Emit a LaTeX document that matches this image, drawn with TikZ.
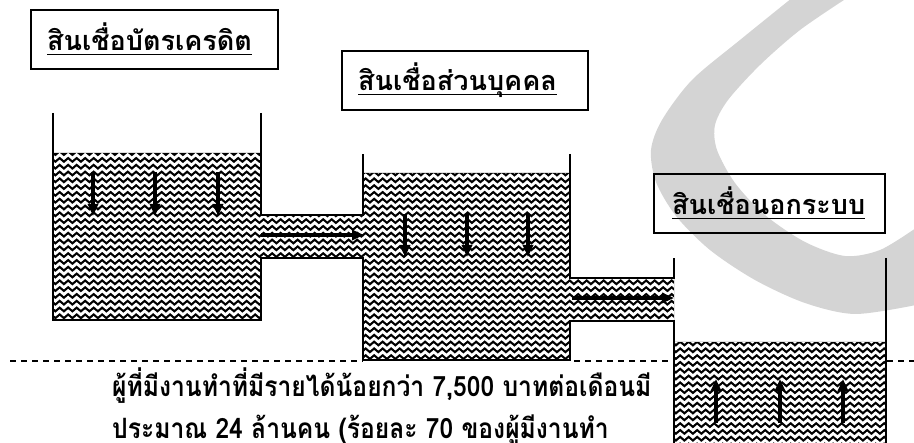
\documentclass[tikz,border=0pt]{standalone}
\usepackage{fontspec}
\newfontfamily\thaititle[Script=Thai]{Loma}
\newfontfamily\thaibody[Script=Thai, FakeStretch=0.88]{Loma}
\usetikzlibrary{decorations.pathmorphing,arrows.meta}
\definecolor{wm}{RGB}{212,212,212}
\begin{document}
\begin{tikzpicture}[x=1pt,y=-1pt,
  titlebox/.style={draw, line width=1.6pt, minimum height=59pt, inner sep=0pt},
  titletext/.style={inner sep=0pt, anchor=base west, font=\thaititle\bfseries\fontsize{27}{31}\selectfont},
  bodytext/.style={inner sep=0pt, anchor=base west, font=\thaibody\bfseries\fontsize{28}{32}\selectfont},
  uline/.style={line width=1.6pt},
  wall/.style={line width=1.8pt, line join=miter},
  wave/.style={white, line width=2.8pt, decorate, decoration={snake, segment length=8.5pt, amplitude=1.8pt}},
  flow/.style={line width=3.4pt, -{Triangle[width=10pt,length=12pt]}},
  dashline/.style={line width=1.4pt, dash pattern=on 6pt off 5pt}]
\useasboundingbox (0,0) rectangle (914,443);
\fill[white] (0,0) rectangle (914,443);
% watermark
\fill[wm] plot[smooth] coordinates {(792,-2) (740,40) (692,80) (662,120) (651,150) (656,182) (676,216) (710,250) (755,280) (805,303) (855,314) (916,305)}
  -- plot[smooth] coordinates {(916,228) (880,250) (845,256) (805,242) (765,215) (735,183) (717,150) (715,125) (728,100) (760,65) (800,30) (847,-2)} -- cycle;
% liquid
\def\liquid{(53,153) -- (261,153) -- (261,215) -- (363,215) -- (363,173) -- (570,173) -- (570,278) -- (674,278) -- (674,321) -- (570,321) -- (570,360) -- (363,360) -- (363,258) -- (261,258) -- (261,320) -- (53,320) -- cycle (674,342) -- (886,342) -- (886,460) -- (674,460) -- cycle}
\fill[black] \liquid;
\begin{scope}
  \clip \liquid;
  \foreach \yy in {156.5,163.3,...,455} \draw[wave] (40,\yy) -- (900,\yy);
\end{scope}
% walls
\draw[wall] (53,113) -- (53,320) -- (261,320) -- (261,258) -- (363,258) -- (363,360) -- (570,360) -- (570,321) -- (674,321) -- (674,445);
\draw[wall] (261,113) -- (261,215) -- (363,215) -- (363,154);
\draw[wall] (570,154) -- (570,278) -- (674,278) -- (674,258);
\draw[wall] (886,258) -- (886,445);
% arrows
\foreach \xx in {93,155,218} \draw[flow] (\xx,172) -- (\xx,216);
\foreach \xx in {405,467,528} \draw[flow] (\xx,214) -- (\xx,257);
\draw[flow] (261,235) -- (364,235);
\draw[flow] (572,298) -- (674,298);
\foreach \xx in {716,780,843} \draw[flow] (\xx,423) -- (\xx,379);
% dashed baseline
\draw[dashline] (10,361) -- (363,361);
\draw[dashline] (574,361) -- (674,361);
\draw[dashline] (887,361) -- (914,361);
% title boxes
\node[titlebox, minimum width=247pt] (b1) at (154.5,39.5) {};
\node[titlebox, minimum width=246pt] (b2) at (465,80.5) {};
\node[titlebox, minimum width=231pt] (b3) at (769.5,203.5) {};
\node[titletext] (t1) at (47,51) {สินเชื่อบัตรเครดิต};
\node[titletext] (t2) at (358,91) {สินเชื่อส่วนบุคคล};
\node[titletext] (t3) at (672,215) {สินเชื่อนอกระบบ};
\foreach \t in {t1,t2,t3} \draw[uline] ([yshift=-3.5pt]\t.base west) -- ([yshift=-3.5pt]\t.base east);
% body text
\node[bodytext] (l1) at (112,397) {ผู้ที่มีงานทำที่มีรายได้น้อยกว่า 7,500 บาทต่อเดือนมี};
\node[bodytext] (l2) at (112,439) {ประมาณ 24 ล้านคน (ร้อยละ 70 ของผู้มีงานทำ};
\end{tikzpicture}
\end{document}
